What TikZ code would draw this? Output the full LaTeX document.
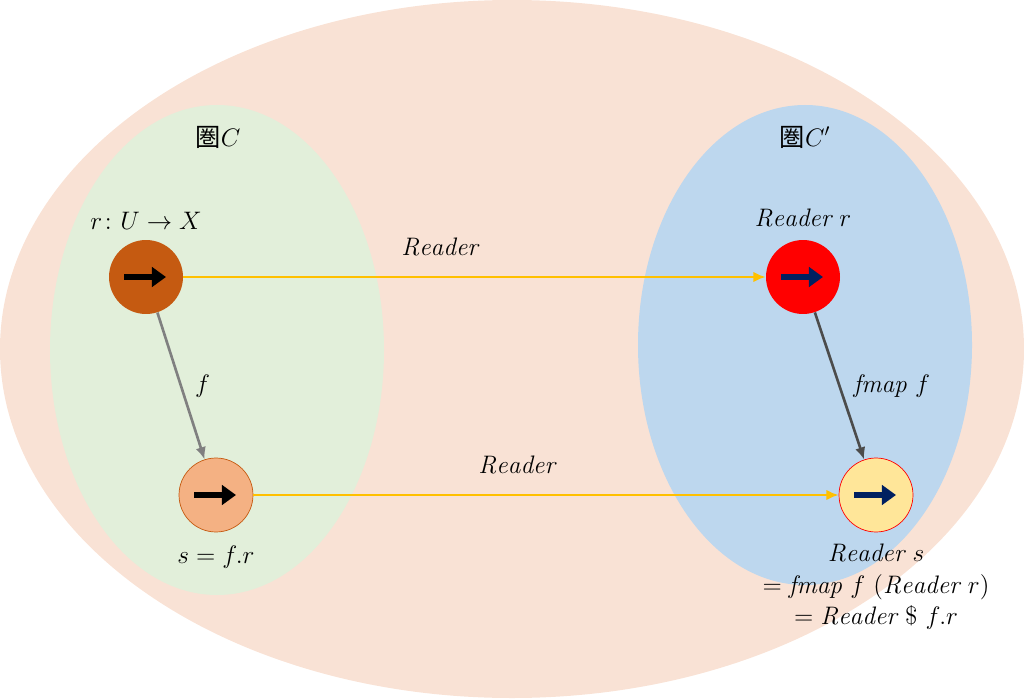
\documentclass[tikz,border=0pt]{standalone}
\usepackage{amsmath,amssymb}
\usepackage{fontspec}
\newfontfamily\cjk{Noto Sans CJK JP}
\usetikzlibrary{arrows.meta,positioning,calc}
\definecolor{bgpeach}{RGB}{249,226,213}
\definecolor{catgreen}{RGB}{226,239,218}
\definecolor{catblue}{RGB}{189,215,238}
\definecolor{darkorange}{RGB}{197,90,17}
\definecolor{lightorange}{RGB}{244,177,131}
\definecolor{paleyellow}{RGB}{255,230,153}
\definecolor{gold}{RGB}{255,192,0}
\definecolor{navy}{RGB}{0,32,96}
\begin{document}
\begin{tikzpicture}[x=0.02cm,y=-0.02cm, font=\Large,
  obj/.style={circle, minimum size=1.48cm, inner sep=0pt},
  functor/.style={gold, line width=1.5pt, -{Latex[length=7pt,width=6pt]}},
  morph/.style={line width=1.5pt, -{Latex[length=7pt,width=6pt]}}]
\useasboundingbox (0,0) rectangle (1024,699);
% Categories
\fill[bgpeach] (512,349) ellipse (512 and 349);
\fill[catgreen] (217,350) ellipse (167 and 245);
\fill[catblue] (805,345) ellipse (167 and 240);
\node at (218,137) {{\cjk 圏}$C$};
\node at (805,137) {{\cjk 圏}$C'$};

% Objects
\node[obj, fill=darkorange] (r) at (146,277) {};
\node[obj, fill=lightorange, draw=darkorange] (s) at (216,495) {};
\node[obj, fill=red] (Rr) at (803,277) {};
\node[obj, fill=paleyellow, draw=red] (Rs) at (876,495) {};
\foreach \n/\c in {r/black, s/black, Rr/navy, Rs/navy}
  \draw[\c, line width=3.5pt, -{Triangle[length=8pt,width=11pt]}] ($(\n)+(-22,0)$) -- ($(\n)+(20,0)$);

% Labels
\node at (146,221) {$r\colon U\to X$};
\node at (216,557) {$s=f.r$};
\node at (803,218) {$\mathit{Reader}\ r$};
\node[align=center] at (876,587) {$\mathit{Reader}\ s$\\$=\mathit{fmap}\ f\ (\mathit{Reader}\ r)$\\$=\mathit{Reader}\ \$\ f.r$};

% Arrows
\draw[functor] (r) -- node[above=8pt, black, pos=0.44] {$\mathit{Reader}$} (Rr);
\draw[functor] (s) -- node[above=8pt, black, pos=0.45] {$\mathit{Reader}$} (Rs);
\draw[morph, gray] (r) -- node[right=4pt, black] {$f$} (s);
\draw[morph, black!70] (Rr) -- node[right=4pt, black] {$\mathit{fmap}\ f$} (Rs);
\end{tikzpicture}
\end{document}
